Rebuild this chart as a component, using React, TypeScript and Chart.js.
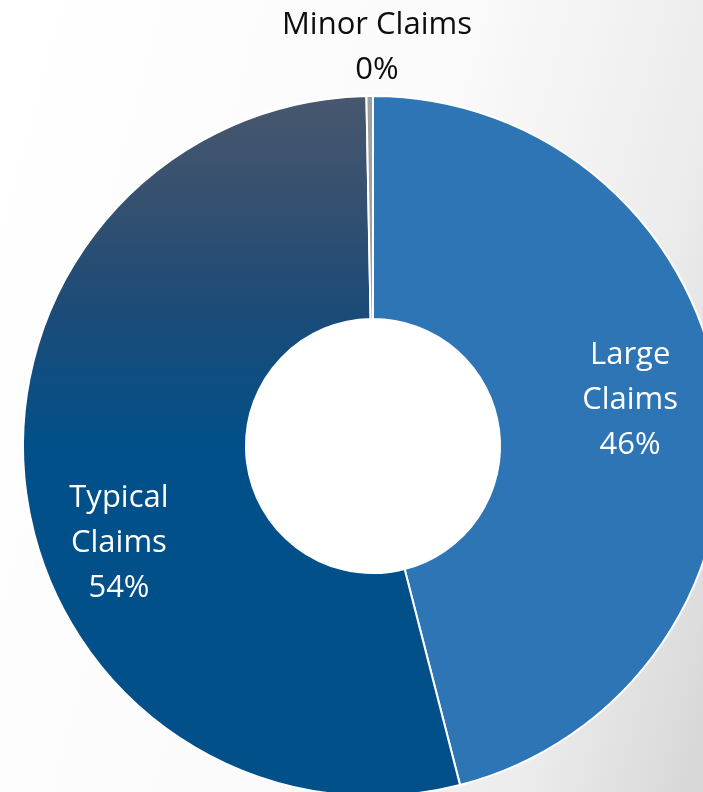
import React, { useEffect, useRef } from "react";
import { Chart, registerables } from "chart.js";

Chart.register(...registerables);

const categories = ["Large Claims", "Typical Claims", "Minor Claims"];
const shares = [46.0, 53.7, 0.3];
const labelLines = [["Large", "Claims"], ["Typical", "Claims"], ["Minor Claims"]];

const CANVAS_W = 746;
const CANVAS_H = 892;

const holePlugin = {
  id: "whiteHole",
  beforeDatasetsDraw(chart: any) {
    const arc = chart.getDatasetMeta(0).data[0];
    if (!arc) return;
    const { x, y, innerRadius } = arc.getProps(["x", "y", "innerRadius"], true);
    const ctx = chart.ctx;
    ctx.save();
    ctx.fillStyle = "#ffffff";
    ctx.beginPath();
    ctx.arc(x, y, innerRadius + 1, 0, Math.PI * 2);
    ctx.fill();
    ctx.restore();
  },
};

const labelPlugin = {
  id: "sliceLabels",
  afterDraw(chart: any, _args: any, opts: any) {
    const meta = chart.getDatasetMeta(0);
    const ctx = chart.ctx;
    ctx.save();
    ctx.font = `${opts.fontSize}px ${opts.fontFamily}`;
    ctx.textAlign = "center";
    ctx.textBaseline = "middle";
    meta.data.forEach((arc: any, i: number) => {
      const { x, y, outerRadius } = arc.getProps(["x", "y", "outerRadius"], true);
      const ang = (opts.angles[i] * Math.PI) / 180;
      const r = outerRadius * opts.radii[i];
      const cx = x + r * Math.sin(ang);
      const cy = y - r * Math.cos(ang);
      const lines = [...labelLines[i], `${Math.round(shares[i])}%`];
      const lh = opts.lineHeight;
      const startY = cy - ((lines.length - 1) * lh) / 2;
      ctx.fillStyle = opts.colors[i];
      lines.forEach((t: string, k: number) => ctx.fillText(t, cx, startY + k * lh));
    });
    ctx.restore();
  },
};

export default function App() {
  const ref = useRef<HTMLCanvasElement>(null);

  useEffect(() => {
    document.body.style.margin = "0";
    document.body.style.overflow = "hidden";
    const canvas = ref.current!;
    const typicalFill = (c: any) => {
      const chart = c.chart;
      const area = chart.chartArea;
      if (!area) return "#01508a";
      const top = area.top;
      const mid = (area.top + area.bottom) / 2;
      const g = chart.ctx.createLinearGradient(0, top, 0, mid);
      g.addColorStop(0, "#48576e");
      g.addColorStop(0.3, "#35506f");
      g.addColorStop(0.6, "#1d4b77");
      g.addColorStop(1, "#01508a");
      return g;
    };
    const chart = new Chart(canvas, {
      type: "doughnut",
      data: {
        labels: categories,
        datasets: [
          {
            data: shares,
            backgroundColor: (c: any) => {
              if (c.dataIndex === 0) return "#2e75b6";
              if (c.dataIndex === 1) return typicalFill(c);
              return "#a0a0a0";
            },
            borderColor: "#ffffff",
            borderWidth: 2,
          },
        ],
      },
      options: {
        responsive: false,
        animation: false,
        cutout: "36.3%",
        rotation: 0,
        layout: { padding: { left: 22, right: 22, top: 95, bottom: 95 } },
        plugins: {
          legend: { display: false },
          tooltip: { enabled: false },
          sliceLabels: {
            angles: [80, 249.1, 0.57],
            radii: [0.746, 0.777, 1.1386],
            colors: ["#ffffff", "#ffffff", "#0d0d0d"],
            fontSize: 31,
            fontFamily: "'Open Sans'",
            lineHeight: 45,
          },
        } as any,
      },
      plugins: [holePlugin, labelPlugin],
    });
    return () => chart.destroy();
  }, []);

  return (
    <div
      style={{
        position: "fixed",
        left: 0,
        top: 0,
        width: 703,
        height: 792,
        overflow: "hidden",
        background:
          "linear-gradient(105deg, #ffffff 0%, #fbfbfb 50%, #ececec 80%, #d6d6d6 100%)",
      }}
    >
      <canvas
        ref={ref}
        width={CANVAS_W}
        height={CANVAS_H}
        style={{ position: "absolute", left: 0, top: 0, width: CANVAS_W, height: CANVAS_H }}
      />
    </div>
  );
}
